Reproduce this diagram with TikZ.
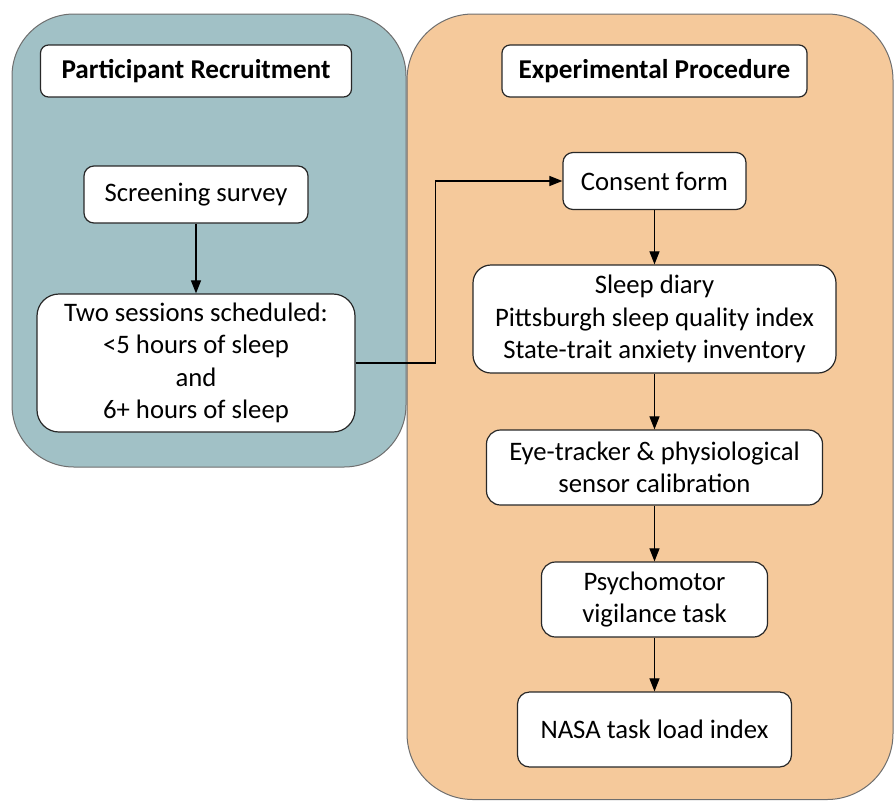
\documentclass[tikz,border=0pt]{standalone}
\usepackage{fontspec}
\setmainfont{Carlito}
\usetikzlibrary{arrows.meta}
\definecolor{panelblue}{RGB}{161,193,198}
\definecolor{panelorange}{RGB}{245,201,155}
\definecolor{panelline}{RGB}{110,110,110}
\definecolor{boxline}{RGB}{40,40,40}
\begin{document}
\begin{tikzpicture}[x=1pt,y=-1pt,
  panel/.style={draw=panelline,line width=1pt},
  box/.style={draw=boxline,fill=white,line width=1.2pt,rectangle,
    inner sep=0pt,align=center,font=\fontsize{26.7}{32.5}\selectfont},
  head/.style={box,font=\fontsize{27.2}{32.5}\selectfont\bfseries},
  flow/.style={-{Triangle[length=13pt,width=10pt]},line width=1.1pt,black}]
\useasboundingbox (0,0) rectangle (894,801);
% panels
\draw[panel,fill=panelorange,rounded corners=66pt] (407,14) rectangle (893,799.5);
\draw[panel,fill=panelblue,rounded corners=62pt] (12,14) rectangle (406,467);
% headings
\node[head,rounded corners=8pt,minimum width=311pt,minimum height=52pt] (rec) at (196,71) {Participant Recruitment};
\node[head,rounded corners=8pt,minimum width=305pt,minimum height=52pt] (exp) at (654.5,71) {Experimental Procedure};
% recruitment steps
\node[box,rounded corners=10pt,minimum width=224pt,minimum height=57pt] (screen) at (196,194.5) {Screening survey};
\node[box,rounded corners=22pt,minimum width=318pt,minimum height=138pt] (sessions) at (196,363)
  {Two sessions scheduled:\\ <5 hours of sleep\\ and\\ 6+ hours of sleep};
% procedure steps
\node[box,rounded corners=10pt,minimum width=183pt,minimum height=57pt] (consent) at (654.5,181) {Consent form};
\node[box,rounded corners=18pt,minimum width=363pt,minimum height=108pt] (diary) at (654.5,319)
  {Sleep diary\\ Pittsburgh sleep quality index\\ State-trait anxiety inventory};
\node[box,rounded corners=14pt,minimum width=336pt,minimum height=75pt] (eye) at (654.5,467.5)
  {Eye-tracker \& physiological\\ sensor calibration};
\node[box,rounded corners=14pt,minimum width=226pt,minimum height=75pt] (pvt) at (654.5,599.5)
  {Psychomotor\\ vigilance task};
\node[box,rounded corners=12pt,minimum width=274pt,minimum height=75pt] (nasa) at (654.5,729.5) {NASA task load index};
% connectors
\draw[flow] (screen.south) -- (sessions.north);
\draw[flow] (sessions.east) -- ++(80,0) coordinate (bend) |- (consent.west);
\draw[flow] (consent.south) -- (diary.north);
\draw[flow] (diary.south) -- (eye.north);
\draw[flow] (eye.south) -- (pvt.north);
\draw[flow] (pvt.south) -- (nasa.north);
\end{tikzpicture}
\end{document}
